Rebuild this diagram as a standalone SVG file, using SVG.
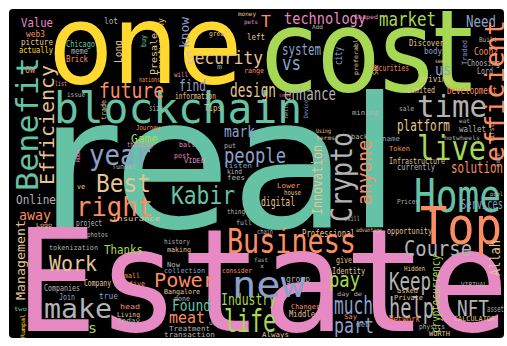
<svg xmlns="http://www.w3.org/2000/svg" width="507" height="346" viewBox="0 0 507 346">
<style>
text{font-family:"DejaVu Sans Mono","Liberation Mono",monospace}
.sans{font-family:"DejaVu Sans","Liberation Sans",sans-serif}
.te{fill:#66c2a5}.or{fill:#fc8d62}.bl{fill:#8da0cb}.pk{fill:#e78ac3}.gr{fill:#a6d854}.ye{fill:#ffd92f}.ta{fill:#e5c494}.gy{fill:#b3b3b3}
</style>
<rect x="0" y="0" width="507" height="346" fill="#ffffff"/>
<rect x="9" y="9" width="495" height="329" rx="4" fill="#000000"/>
<g id="big">
<text class="ye sans" x="49" y="83" font-size="110" textLength="193" lengthAdjust="spacingAndGlyphs">one</text>
<text class="gr sans" x="261" y="91" font-size="114" textLength="212" lengthAdjust="spacingAndGlyphs">cost</text>
<text class="te" x="54" y="123" font-size="42" textLength="248" lengthAdjust="spacingAndGlyphs">blockchain</text>
<text class="te sans" x="39" y="227" font-size="182" textLength="362" lengthAdjust="spacingAndGlyphs">real</text>
<text class="pk" x="15" y="331" font-size="143" textLength="494" lengthAdjust="spacingAndGlyphs">Estate</text>
</g>
<g id="words">
<text class="pk" x="21" y="27" font-size="13" textLength="32" lengthAdjust="spacingAndGlyphs">Value</text>
<text class="gy" x="104" y="24" font-size="9" textLength="14" lengthAdjust="spacingAndGlyphs">lot</text>
<text class="or" x="26" y="37" font-size="8" textLength="19" lengthAdjust="spacingAndGlyphs">web3</text>
<text class="ta" x="21" y="45" font-size="9" textLength="32" lengthAdjust="spacingAndGlyphs">picture</text>
<text class="ye" x="19" y="53" font-size="9" textLength="34" lengthAdjust="spacingAndGlyphs">actually</text>
<text class="te" x="66" y="47" font-size="9" textLength="29" lengthAdjust="spacingAndGlyphs">Chicago</text>
<text class="gy" x="71" y="54" font-size="8" textLength="17" lengthAdjust="spacingAndGlyphs">meme</text>
<text class="or" x="66" y="62" font-size="9" textLength="22" lengthAdjust="spacingAndGlyphs">Brick</text>
<text class="or" x="25" y="73" font-size="8" textLength="10" lengthAdjust="spacingAndGlyphs">OW</text>
<text class="pk" x="55" y="86" font-size="7" textLength="12" lengthAdjust="spacingAndGlyphs">list</text>
<text class="gy" x="67" y="97" font-size="7" textLength="18" lengthAdjust="spacingAndGlyphs">issue</text>
<text class="or" x="99" y="98" font-size="22" textLength="65" lengthAdjust="spacingAndGlyphs">future</text>
<text class="pk" x="174" y="77" font-size="7" textLength="14" lengthAdjust="spacingAndGlyphs">will</text>
<text class="or" x="139" y="82" font-size="7" textLength="21" lengthAdjust="spacingAndGlyphs">nations</text>
<text class="bl" x="179" y="91" font-size="16" textLength="27" lengthAdjust="spacingAndGlyphs">find</text>
<text class="ta" x="175" y="99" font-size="8" textLength="41" lengthAdjust="spacingAndGlyphs">information</text>
<text class="gy" x="149" y="111" font-size="8" textLength="14" lengthAdjust="spacingAndGlyphs">size</text>
<text class="ta" x="204" y="111" font-size="8" textLength="18" lengthAdjust="spacingAndGlyphs">Tips</text>
<text class="ta" x="209" y="36" font-size="7" textLength="19" lengthAdjust="spacingAndGlyphs">great</text>
<text class="ta" x="238" y="16" font-size="6" textLength="18" lengthAdjust="spacingAndGlyphs">money</text>
<text class="pk" x="244" y="24" font-size="6" textLength="14" lengthAdjust="spacingAndGlyphs">pets</text>
<text class="ta" x="185" y="64" font-size="17" textLength="78" lengthAdjust="spacingAndGlyphs">Security</text>
<text class="bl" x="217" y="69" font-size="7" textLength="5" lengthAdjust="spacingAndGlyphs">m</text>
<text class="ta" x="230" y="97" font-size="19" textLength="46" lengthAdjust="spacingAndGlyphs">design</text>
<text class="or" x="244" y="73" font-size="7" textLength="20" lengthAdjust="spacingAndGlyphs">range</text>
<text class="ta" x="247" y="40" font-size="8" textLength="18" lengthAdjust="spacingAndGlyphs">left</text>
<text class="or" x="261" y="27" font-size="16" textLength="10" lengthAdjust="spacingAndGlyphs">T</text>
<text class="pk" x="284" y="24" font-size="16" textLength="82" lengthAdjust="spacingAndGlyphs">technology</text>
<text class="gy" x="312" y="29" font-size="6" textLength="11" lengthAdjust="spacingAndGlyphs">Add</text>
<text class="pk" x="354" y="19" font-size="6" textLength="24" lengthAdjust="spacingAndGlyphs">Shaped</text>
<text class="bl" x="282" y="55" font-size="15" textLength="39" lengthAdjust="spacingAndGlyphs">system</text>
<text class="bl" x="282" y="70" font-size="20" textLength="19" lengthAdjust="spacingAndGlyphs">vs</text>
<text class="gy" x="284" y="100" font-size="17" textLength="52" lengthAdjust="spacingAndGlyphs">enhance</text>
<text class="or" x="279" y="97" font-size="5" textLength="12" lengthAdjust="spacingAndGlyphs">tents</text>
<text class="gy" x="352" y="115" font-size="7" textLength="26" lengthAdjust="spacingAndGlyphs">mining</text>
<text class="gr" x="379" y="26" font-size="19" textLength="57" lengthAdjust="spacingAndGlyphs">market</text>
<text class="bl" x="466" y="27" font-size="16" textLength="30" lengthAdjust="spacingAndGlyphs">Need</text>
<text class="ta" x="409" y="46" font-size="9" textLength="35" lengthAdjust="spacingAndGlyphs">Discover</text>
<text class="bl" x="424" y="54" font-size="8" textLength="18" lengthAdjust="spacingAndGlyphs">body</text>
<text class="gy" x="479" y="42" font-size="7" textLength="18" lengthAdjust="spacingAndGlyphs">Built</text>
<text class="or" x="474" y="55" font-size="11" textLength="24" lengthAdjust="spacingAndGlyphs">Coonz</text>
<text class="gy" x="467" y="66" font-size="9" textLength="33" lengthAdjust="spacingAndGlyphs">Choosing</text>
<text class="gy" x="477" y="74" font-size="8" textLength="16" lengthAdjust="spacingAndGlyphs">Lord</text>
<text class="ta" x="435" y="63" font-size="6" textLength="9" lengthAdjust="spacingAndGlyphs">see</text>
<text class="bl" x="435" y="75" font-size="15" textLength="16" lengthAdjust="spacingAndGlyphs">us</text>
<text class="or" x="371" y="71" font-size="9" textLength="38" lengthAdjust="spacingAndGlyphs">Securities</text>
<text class="ta" x="419" y="82" font-size="9" textLength="32" lengthAdjust="spacingAndGlyphs">driving</text>
<text class="ta" x="407" y="93" font-size="9" textLength="28" lengthAdjust="spacingAndGlyphs">Limited</text>
<text class="or" x="447" y="94" font-size="10" textLength="50" lengthAdjust="spacingAndGlyphs">Development</text>
<text class="gy" x="399" y="111" font-size="7" textLength="15" lengthAdjust="spacingAndGlyphs">sale</text>
<text class="gy" x="417" y="117" font-size="30" textLength="70" lengthAdjust="spacingAndGlyphs">time</text>
<text class="bl" x="89" y="165" font-size="28" textLength="62" lengthAdjust="spacingAndGlyphs">year</text>
<text class="ta" x="96" y="192" font-size="24" textLength="55" lengthAdjust="spacingAndGlyphs">Best</text>
<text class="gy" x="112" y="169" font-size="7" textLength="24" lengthAdjust="spacingAndGlyphs">Tunnel</text>
<text class="ye" x="77" y="189" font-size="7" textLength="8" lengthAdjust="spacingAndGlyphs">ve</text>
<text class="or" x="76" y="216" font-size="26" textLength="77" lengthAdjust="spacingAndGlyphs">right</text>
<text class="gy" x="16" y="204" font-size="13" textLength="40" lengthAdjust="spacingAndGlyphs">Online</text>
<text class="or" x="19" y="220" font-size="14" textLength="32" lengthAdjust="spacingAndGlyphs">away</text>
<text class="ta" x="36" y="227" font-size="6" textLength="16" lengthAdjust="spacingAndGlyphs">Logo</text>
<text class="gy" x="76" y="226" font-size="8" textLength="26" lengthAdjust="spacingAndGlyphs">project</text>
<text class="ta" x="112" y="221" font-size="7" textLength="48" lengthAdjust="spacingAndGlyphs">insurance</text>
<text class="or" x="136" y="130" font-size="7" textLength="24" lengthAdjust="spacingAndGlyphs">Journey</text>
<text class="bl" x="224" y="137" font-size="15" textLength="31" lengthAdjust="spacingAndGlyphs">mark</text>
<text class="gr" x="131" y="143" font-size="13" textLength="27" lengthAdjust="spacingAndGlyphs">Game</text>
<text class="pk" x="127" y="147" font-size="7" textLength="26" lengthAdjust="spacingAndGlyphs">thinking</text>
<text class="pk" x="179" y="147" font-size="7" textLength="16" lengthAdjust="spacingAndGlyphs">ball</text>
<text class="pk" x="174" y="158" font-size="7" textLength="16" lengthAdjust="spacingAndGlyphs">post</text>
<text class="gy" x="224" y="148" font-size="7" textLength="12" lengthAdjust="spacingAndGlyphs">put</text>
<text class="bl" x="224" y="163" font-size="22" textLength="62" lengthAdjust="spacingAndGlyphs">people</text>
<text class="pk" x="184" y="163" font-size="7" textLength="21" lengthAdjust="spacingAndGlyphs">VIDEO</text>
<text class="bl" x="224" y="168" font-size="7" textLength="28" lengthAdjust="spacingAndGlyphs">listen</text>
<text class="gy" x="227" y="174" font-size="7" textLength="15" lengthAdjust="spacingAndGlyphs">kind</text>
<text class="gy" x="227" y="180" font-size="7" textLength="18" lengthAdjust="spacingAndGlyphs">fees</text>
<text class="te" x="171" y="204" font-size="24" textLength="64" lengthAdjust="spacingAndGlyphs">Kabir</text>
<text class="gy" x="227" y="214" font-size="7" textLength="18" lengthAdjust="spacingAndGlyphs">thing</text>
<text class="gy" x="236" y="225" font-size="7" textLength="16" lengthAdjust="spacingAndGlyphs">full</text>
<text class="ta" x="316" y="133" font-size="6" textLength="15" lengthAdjust="spacingAndGlyphs">Using</text>
<text class="ta" x="316" y="140" font-size="6" textLength="19" lengthAdjust="spacingAndGlyphs">terms</text>
<text class="gy" x="351" y="139" font-size="7" textLength="17" lengthAdjust="spacingAndGlyphs">back</text>
<text class="or" x="277" y="188" font-size="7" textLength="23" lengthAdjust="spacingAndGlyphs">Lower</text>
<text class="ta" x="284" y="195" font-size="7" textLength="17" lengthAdjust="spacingAndGlyphs">house</text>
<text class="ta" x="261" y="206" font-size="13" textLength="34" lengthAdjust="spacingAndGlyphs">digital</text>
<text class="gy" x="344" y="221" font-size="7" textLength="16" lengthAdjust="spacingAndGlyphs">skill</text>
<text class="gy" x="257" y="234" font-size="7" textLength="16" lengthAdjust="spacingAndGlyphs">chain</text>
<text class="ta" x="302" y="237" font-size="11" textLength="53" lengthAdjust="spacingAndGlyphs">Professional</text>
<text class="ta" x="356" y="232" font-size="6" textLength="26" lengthAdjust="spacingAndGlyphs">advantage</text>
<text class="ta" x="397" y="131" font-size="15" textLength="53" lengthAdjust="spacingAndGlyphs">platform</text>
<text class="gy" x="459" y="123" font-size="6" textLength="11" lengthAdjust="spacingAndGlyphs">eat</text>
<text class="gy" x="459" y="132" font-size="8" textLength="27" lengthAdjust="spacingAndGlyphs">wallet</text>
<text class="gr" x="417" y="160" font-size="34" textLength="69" lengthAdjust="spacingAndGlyphs">live</text>
<text class="bl" x="382" y="141" font-size="7" textLength="18" lengthAdjust="spacingAndGlyphs">name</text>
<text class="or" x="389" y="151" font-size="7" textLength="21" lengthAdjust="spacingAndGlyphs">Token</text>
<text class="gy" x="444" y="140" font-size="6" textLength="36" lengthAdjust="spacingAndGlyphs">hotwheels</text>
<text class="ta" x="389" y="164" font-size="8" textLength="56" lengthAdjust="spacingAndGlyphs">Infrastructure</text>
<text class="gy" x="397" y="170" font-size="8" textLength="38" lengthAdjust="spacingAndGlyphs">currently</text>
<text class="or" x="451" y="173" font-size="16" textLength="52" lengthAdjust="spacingAndGlyphs">solution</text>
<text class="te" x="414" y="212" font-size="46" textLength="87" lengthAdjust="spacingAndGlyphs">Home</text>
<text class="gy" x="490" y="196" font-size="6" textLength="13" lengthAdjust="spacingAndGlyphs">pool</text>
<text class="bl" x="461" y="209" font-size="14" textLength="42" lengthAdjust="spacingAndGlyphs">Services</text>
<text class="gy" x="397" y="204" font-size="7" textLength="22" lengthAdjust="spacingAndGlyphs">Prices</text>
<text class="or" x="420" y="244" font-size="52" textLength="82" lengthAdjust="spacingAndGlyphs">Top</text>
<text class="ta" x="387" y="234" font-size="8" textLength="45" lengthAdjust="spacingAndGlyphs">opportunity</text>
<text class="te" x="14" y="311" font-size="6" textLength="13" lengthAdjust="spacingAndGlyphs">two</text>
<text class="gy" x="87" y="237" font-size="7" textLength="21" lengthAdjust="spacingAndGlyphs">photos</text>
<text class="gy" x="49" y="250" font-size="7" textLength="49" lengthAdjust="spacingAndGlyphs">tokenization</text>
<text class="gr" x="104" y="254" font-size="13" textLength="39" lengthAdjust="spacingAndGlyphs">Thanks</text>
<text class="ta" x="49" y="271" font-size="21" textLength="48" lengthAdjust="spacingAndGlyphs">Work</text>
<text class="ta" x="84" y="286" font-size="8" textLength="27" lengthAdjust="spacingAndGlyphs">Company</text>
<text class="gy" x="44" y="291" font-size="8" textLength="36" lengthAdjust="spacingAndGlyphs">Companies</text>
<text class="bl" x="59" y="300" font-size="8" textLength="16" lengthAdjust="spacingAndGlyphs">Join</text>
<text class="bl" x="99" y="299" font-size="8" textLength="19" lengthAdjust="spacingAndGlyphs">true</text>
<text class="gy" x="44" y="318" font-size="26" textLength="68" lengthAdjust="spacingAndGlyphs">make</text>
<text class="gr" x="88" y="333" font-size="14" textLength="9" lengthAdjust="spacingAndGlyphs">s</text>
<text class="gy" x="164" y="244" font-size="7" textLength="26" lengthAdjust="spacingAndGlyphs">history</text>
<text class="ta" x="167" y="252" font-size="7" textLength="24" lengthAdjust="spacingAndGlyphs">making</text>
<text class="gy" x="167" y="267" font-size="7" textLength="13" lengthAdjust="spacingAndGlyphs">Now</text>
<text class="bl" x="164" y="273" font-size="7" textLength="41" lengthAdjust="spacingAndGlyphs">collection</text>
<text class="or" x="222" y="273" font-size="7" textLength="30" lengthAdjust="spacingAndGlyphs">consider</text>
<text class="or" x="120" y="278" font-size="7" textLength="20" lengthAdjust="spacingAndGlyphs">small</text>
<text class="or" x="129" y="286" font-size="7" textLength="16" lengthAdjust="spacingAndGlyphs">five</text>
<text class="or" x="154" y="287" font-size="20" textLength="61" lengthAdjust="spacingAndGlyphs">Power</text>
<text class="ta" x="164" y="294" font-size="7" textLength="36" lengthAdjust="spacingAndGlyphs">Bangalore</text>
<text class="gy" x="174" y="301" font-size="7" textLength="16" lengthAdjust="spacingAndGlyphs">done</text>
<text class="gr" x="221" y="305" font-size="16" textLength="55" lengthAdjust="spacingAndGlyphs">Industry</text>
<text class="te" x="172" y="311" font-size="16" textLength="39" lengthAdjust="spacingAndGlyphs">Found</text>
<text class="or" x="120" y="309" font-size="7" textLength="20" lengthAdjust="spacingAndGlyphs">head</text>
<text class="ta" x="117" y="317" font-size="7" textLength="23" lengthAdjust="spacingAndGlyphs">Living</text>
<text class="gy" x="117" y="323" font-size="7" textLength="23" lengthAdjust="spacingAndGlyphs">Today</text>
<text class="or" x="169" y="323" font-size="15" textLength="36" lengthAdjust="spacingAndGlyphs">meat</text>
<text class="gy" x="209" y="325" font-size="6" textLength="11" lengthAdjust="spacingAndGlyphs">use</text>
<text class="gy" x="169" y="331" font-size="7" textLength="41" lengthAdjust="spacingAndGlyphs">Treatment</text>
<text class="gy" x="164" y="337" font-size="7" textLength="51" lengthAdjust="spacingAndGlyphs">transaction</text>
<text class="gr" x="224" y="332" font-size="32" textLength="52" lengthAdjust="spacingAndGlyphs">life</text>
<text class="or" x="227" y="253" font-size="34" textLength="129" lengthAdjust="spacingAndGlyphs">Business</text>
<text class="bl" x="232" y="297" font-size="36" textLength="73" lengthAdjust="spacingAndGlyphs">new</text>
<text class="gy" x="254" y="262" font-size="6" textLength="14" lengthAdjust="spacingAndGlyphs">fast</text>
<text class="gy" x="260" y="268" font-size="6" textLength="4" lengthAdjust="spacingAndGlyphs">x</text>
<text class="ta" x="336" y="263" font-size="8" textLength="16" lengthAdjust="spacingAndGlyphs">give</text>
<text class="ta" x="332" y="274" font-size="8" textLength="33" lengthAdjust="spacingAndGlyphs">Identity</text>
<text class="gy" x="286" y="282" font-size="8" textLength="24" lengthAdjust="spacingAndGlyphs">group</text>
<text class="gr" x="329" y="287" font-size="22" textLength="31" lengthAdjust="spacingAndGlyphs">pay</text>
<text class="gy" x="337" y="296" font-size="6" textLength="25" lengthAdjust="spacingAndGlyphs">day de</text>
<text class="bl" x="334" y="314" font-size="24" textLength="39" lengthAdjust="spacingAndGlyphs">much</text>
<text class="or" x="291" y="309" font-size="7" textLength="29" lengthAdjust="spacingAndGlyphs">Changer</text>
<text class="ta" x="289" y="317" font-size="8" textLength="26" lengthAdjust="spacingAndGlyphs">Middle</text>
<text class="or" x="344" y="319" font-size="7" textLength="13" lengthAdjust="spacingAndGlyphs">Say</text>
<text class="bl" x="356" y="327" font-size="7" textLength="14" lengthAdjust="spacingAndGlyphs">web</text>
<text class="bl" x="334" y="333" font-size="22" textLength="40" lengthAdjust="spacingAndGlyphs">part</text>
<text class="ta" x="262" y="337" font-size="7" textLength="27" lengthAdjust="spacingAndGlyphs">Always</text>
<text class="gy" x="404" y="256" font-size="22" textLength="68" lengthAdjust="spacingAndGlyphs">Course</text>
<text class="ta" x="404" y="271" font-size="7" textLength="21" lengthAdjust="spacingAndGlyphs">Hidden</text>
<text class="gy" x="389" y="290" font-size="25" textLength="42" lengthAdjust="spacingAndGlyphs">Keep</text>
<text class="ta" x="397" y="293" font-size="7" textLength="21" lengthAdjust="spacingAndGlyphs">asked</text>
<text class="ta" x="394" y="300" font-size="7" textLength="29" lengthAdjust="spacingAndGlyphs">Private</text>
<text class="gy" x="389" y="318" font-size="29" textLength="45" lengthAdjust="spacingAndGlyphs">help</text>
<text class="or" x="389" y="322" font-size="8" textLength="31" lengthAdjust="spacingAndGlyphs">Network</text>
<text class="gy" x="419" y="329" font-size="7" textLength="26" lengthAdjust="spacingAndGlyphs">physics</text>
<text class="ta" x="429" y="336" font-size="7" textLength="21" lengthAdjust="spacingAndGlyphs">WORTH</text>
<text class="gy" x="461" y="287" font-size="7" textLength="26" lengthAdjust="spacingAndGlyphs">VIRTUAL</text>
<text class="gy" x="457" y="316" font-size="22" textLength="32" lengthAdjust="spacingAndGlyphs">NFT</text>
<text class="gy" x="487" y="312" font-size="8" textLength="17" lengthAdjust="spacingAndGlyphs">asset</text>
<text class="ta" x="454" y="321" font-size="7" textLength="41" lengthAdjust="spacingAndGlyphs">CALCULATOR</text>
</g>
<g id="vertical">
<text class="te" transform="translate(38,191) rotate(-90)" font-size="30" textLength="134" lengthAdjust="spacingAndGlyphs">Benefit</text>
<text class="ta" transform="translate(54,185) rotate(-90)" font-size="20" textLength="120" lengthAdjust="spacingAndGlyphs">Efficiency</text>
<text class="ta" transform="translate(122,63) rotate(-90)" font-size="11" textLength="23" lengthAdjust="spacingAndGlyphs">Long</text>
<text class="ta" transform="translate(106,120) rotate(-90)" font-size="7" textLength="20" lengthAdjust="spacingAndGlyphs">trade</text>
<text class="te" transform="translate(146,47) rotate(-90)" font-size="7" textLength="12" lengthAdjust="spacingAndGlyphs">buy</text>
<text class="ta" transform="translate(157,75) rotate(-90)" font-size="9" textLength="42" lengthAdjust="spacingAndGlyphs">Presale</text>
<text class="ye" transform="translate(164,75) rotate(-90)" font-size="8" textLength="57" lengthAdjust="spacingAndGlyphs">Trustworthy</text>
<text class="bl" transform="translate(189,48) rotate(-90)" font-size="13" textLength="31" lengthAdjust="spacingAndGlyphs">know</text>
<text class="bl" transform="translate(342,65) rotate(-90)" font-size="10" textLength="18" lengthAdjust="spacingAndGlyphs">city</text>
<text class="ta" transform="translate(358,75) rotate(-90)" font-size="6" textLength="40" lengthAdjust="spacingAndGlyphs">preferable</text>
<text class="ta" transform="translate(378,75) rotate(-90)" font-size="7" textLength="10" lengthAdjust="spacingAndGlyphs">See</text>
<text class="gy" transform="translate(288,118) rotate(-90)" font-size="6" textLength="15" lengthAdjust="spacingAndGlyphs">hello</text>
<text class="bl" transform="translate(308,118) rotate(-90)" font-size="6" textLength="18" lengthAdjust="spacingAndGlyphs">Device</text>
<text class="or" transform="translate(504,162) rotate(-90)" font-size="26" textLength="142" lengthAdjust="spacingAndGlyphs">efficient</text>
<text class="bl" transform="translate(467,65) rotate(-90)" font-size="7" textLength="25" lengthAdjust="spacingAndGlyphs">Traded</text>
<text class="pk" transform="translate(80,162) rotate(-90)" font-size="6" textLength="12" lengthAdjust="spacingAndGlyphs">ROOM</text>
<text class="gy" transform="translate(352,222) rotate(-90)" font-size="30" textLength="90" lengthAdjust="spacingAndGlyphs">Crypto</text>
<text class="or" transform="translate(371,205) rotate(-90)" font-size="20" textLength="65" lengthAdjust="spacingAndGlyphs">anyone</text>
<text class="ta" transform="translate(322,215) rotate(-90)" font-size="14" textLength="70" lengthAdjust="spacingAndGlyphs">Innovation</text>
<text class="pk" transform="translate(326,162) rotate(-90)" font-size="5" textLength="12" lengthAdjust="spacingAndGlyphs">will</text>
<text class="ta" transform="translate(494,142) rotate(-90)" font-size="7" textLength="18" lengthAdjust="spacingAndGlyphs">first</text>
<text class="gy" transform="translate(500,167) rotate(-90)" font-size="6" textLength="14" lengthAdjust="spacingAndGlyphs">Fake</text>
<text class="ta" transform="translate(25,300) rotate(-90)" font-size="13" textLength="80" lengthAdjust="spacingAndGlyphs">Management</text>
<text class="ye" transform="translate(25,338) rotate(-90)" font-size="6" textLength="24" lengthAdjust="spacingAndGlyphs">Rumpal</text>
<text class="gr" transform="translate(440,333) rotate(-90)" font-size="13" textLength="78" lengthAdjust="spacingAndGlyphs">cryptocurrency</text>
<text class="ta" transform="translate(500,276) rotate(-90)" font-size="14" textLength="36" lengthAdjust="spacingAndGlyphs">Allah</text>
</g>
</svg>
